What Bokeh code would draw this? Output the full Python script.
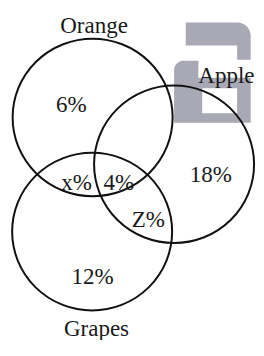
import numpy as np
from bokeh.plotting import figure
from bokeh.models import Range1d, ColumnDataSource
from bokeh.core.properties import value
from bokeh.embed import file_html
from bokeh.resources import INLINE

# ---- content ----
set_names = ["Orange", "Apple", "Grapes"]
region_labels = ["6%", "18%", "12%", "x%", "4%", "Z%"]

# ---- layout (pixel coordinates of the original 264x356 picture) ----
circle_x = [95, 179, 94.5]
circle_y = [122.5, 171.5, 242]
circle_d = 165
name_x = [96.5, 233, 99]
name_y = [26, 79, 343]
region_x = [73, 217, 95, 78.5, 122, 152.5]
region_y = [109, 182, 289, 191, 191, 229]

FONT = value("Liberation Serif")
GREY = "#a9a9b6"

W, H = 256, 340
p = figure(width=W, height=H, output_backend="svg", toolbar_location=None,
           x_range=Range1d(0, 264), y_range=Range1d(356, 0),
           x_axis_type=None, y_axis_type=None, min_border=0)
p.grid.visible = False
p.outline_line_color = None
p.background_fill_color = "white"
p.border_fill_color = "white"

# ---- watermark letter "a" ----
def arc(cx, cy, r, a0, a1, n=12):
    t = np.linspace(np.radians(a0), np.radians(a1), n)
    return list(cx + r * np.cos(t)), list(cy + r * np.sin(t))

R1, R2 = 14, 10
xs, ys = [191], [23]
ax, ay = arc(258 - R1, 23 + R1, R1, -90, 0)
xs += ax; ys += ay
xs += [258, 179]; ys += [128, 128]
ax, ay = arc(179 + R2, 63 + R2, R2, 180, 270)
xs += ax; ys += ay
xs += [244, 244, 191]; ys += [63, 47, 47]
p.patch(xs, ys, fill_color=GREY, line_color=None)
p.quad(left=[208], right=[244], top=[92], bottom=[118], fill_color="white", line_color=None)
p.quad(left=[204], right=[264], top=[62], bottom=[81], fill_color="white", line_color=None)

# ---- circles ----
src = ColumnDataSource(dict(x=circle_x, y=circle_y, name=set_names))
p.ellipse("x", "y", width=circle_d, height=circle_d, source=src, fill_color=None,
          line_color="#111111", line_width=2)

# ---- texts ----
p.text(x=name_x, y=name_y, text=set_names, text_font=FONT, text_font_size="23px",
       text_align="center", text_baseline="alphabetic", text_color="#1a1a1a")
p.text(x=region_x, y=region_y, text=region_labels, text_font=FONT, text_font_size="23px",
       text_align="center", text_baseline="alphabetic", text_color="#1a1a1a")

open("out.html", "w").write(file_html(p, INLINE))
